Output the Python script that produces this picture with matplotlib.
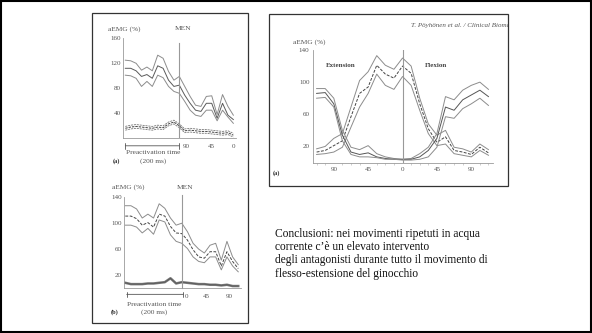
import matplotlib
matplotlib.use("Agg")
import matplotlib.pyplot as plt
from matplotlib.patches import Rectangle
import numpy as np

plt.rcParams['font.family'] = ['Liberation Serif', 'DejaVu Serif']

W, H = 592, 333

# ---------------- data ----------------
# Panel (a) top-left: samples 0..20, MEN at sample 10
tl_x = list(range(21))
tl_upper = [125, 124, 120, 109, 114, 108, 133, 128, 107, 93, 99, 83, 67, 53, 51, 67, 68, 38, 70, 51, 37]
tl_mean = [112, 112, 108, 99, 102, 96, 116, 112, 93, 83, 85, 69, 56, 45, 43, 56, 56, 32, 56, 37, 30]
tl_lower = [101, 100, 96, 83, 91, 83, 101, 97, 83, 75, 72, 59, 45, 37, 35, 45, 45, 28, 45, 34, 24]
tl_low_mean = [16, 18, 19, 18, 17, 16, 18, 17, 23, 26, 20, 12, 13, 12, 11, 11, 10, 9, 8, 9, 5]
tl_low_band = 3
tl_ticks = [11.2, 15.9, 20]
tl_ticklabels = ["90", "45", "0"]
tl_yticks = [40, 80, 120, 160]

# Panel (b) bottom-left
bl_x = list(range(21))
bl_upper = [127, 127, 122, 108, 114, 108, 130, 123, 108, 97, 100, 87, 69, 60, 54, 66, 69, 43, 72, 48, 36]
bl_mean = [111, 111, 107, 97, 101, 94, 114, 111, 95, 85, 84, 74, 59, 48, 46, 56, 56, 34, 56, 41, 30]
bl_lower = [97, 97, 94, 85, 92, 83, 105, 102, 82, 72, 69, 61, 48, 41, 39, 48, 48, 28, 48, 34, 25]
bl_low = [8, 6, 6, 6, 7, 7, 8, 9, 15, 7, 9, 8, 7, 6, 6, 5, 5, 4, 5, 3, 3]
bl_ticks = [10.8, 14.3, 18.4]
bl_ticklabels = ["0", "45", "90"]
bl_yticks = [20, 60, 100, 140]

# Right panel (a): samples -10..10, 0 = centre
r_x = list(range(-10, 11))
rA_upper = [17, 20, 30, 36, 69, 102, 113, 133, 121, 116, 130, 120, 80, 48, 34, 40, 19, 17, 13, 23, 16]
rA_mean = [13, 15, 21, 27, 57, 86, 94, 121, 110, 105, 120, 111, 73, 42, 25, 32, 15, 13, 10, 19, 12]
rA_lower = [10, 11, 13, 19, 44, 69, 86, 110, 96, 91, 107, 96, 65, 36, 21, 23, 11, 9, 7, 15, 9]
rB_upper = [92, 92, 80, 40, 19, 16, 21, 11, 7, 5, 4, 5, 11, 19, 36, 82, 78, 90, 96, 100, 91]
rB_mean = [86, 87, 73, 34, 13, 10, 12, 7, 5, 4, 4, 4, 7, 15, 30, 69, 65, 78, 84, 90, 82]
rB_lower = [80, 81, 69, 27, 10, 7, 7, 6, 4, 4, 3, 3, 4, 7, 19, 57, 55, 67, 73, 80, 71]
r_ticks = [-8, -4, 0, 4, 8]
r_ticklabels = ["90", "45", "0", "45", "90"]
r_yticks = [20, 60, 100, 140]

conclusion_lines = ["Conclusioni: nei movimenti ripetuti in acqua",
                    "corrente c\u2019\u00e8 un elevato intervento",
                    "degli antagonisti durante tutto il movimento di",
                    "flesso-estensione del ginocchio"]

# ---------------- helpers ----------------
def fx(x):
    return x / W

def fy(y):
    return 1 - y / H

def add_axes_px(fig, left, top, right, bottom):
    return fig.add_axes([fx(left), fy(bottom), (right - left) / W, (bottom - top) / H])

GRAY = '#8c8c8c'
DARK = '#5a5a5a'
TXT = '#555555'
FS = 5

fig = plt.figure(figsize=(W / 100, H / 100), dpi=100)
fig.patch.set_facecolor('white')

# slide border
fig.add_artist(Rectangle((0.001, 0.002), 0.997, 0.995, transform=fig.transFigure,
                         fill=False, edgecolor='black', linewidth=1.5))
# picture frames
fig.add_artist(Rectangle((fx(92), fy(323)), 156 / W, 310 / H, transform=fig.transFigure,
                         fill=False, edgecolor='#333333', linewidth=0.9))
fig.add_artist(Rectangle((fx(269), fy(186)), 239 / W, 172 / H, transform=fig.transFigure,
                         fill=False, edgecolor='#333333', linewidth=0.9))


def style_axes(ax, yticks, pad=1.5):
    for s in ['top', 'right']:
        ax.spines[s].set_visible(False)
    for s in ['left', 'bottom']:
        ax.spines[s].set_color('#9a9a9a')
        ax.spines[s].set_linewidth(0.6)
    ax.set_yticks(yticks)
    ax.set_yticklabels([str(v) for v in yticks])
    ax.tick_params(axis='y', length=0, pad=pad, labelsize=FS, labelcolor=TXT)
    ax.tick_params(axis='x', length=0, labelsize=FS, labelcolor=TXT)
    ax.set_facecolor('none')


# ---------- top-left panel ----------
ax1 = add_axes_px(fig, 123.3, 38.3, 235.5, 138.3)
ax1.set_xlim(-0.37, 20.4)
ax1.set_ylim(0, 160)
style_axes(ax1, tl_yticks)
ax1.plot(tl_x, tl_upper, color=GRAY, lw=0.7)
ax1.plot(tl_x, tl_mean, color=DARK, lw=0.7)
ax1.plot(tl_x, tl_lower, color=GRAY, lw=0.7)
lm = np.array(tl_low_mean)
ax1.plot(tl_x, lm + tl_low_band, color='#777777', lw=0.6, ls=(0, (2.5, 1)))
ax1.plot(tl_x, lm, color='#444444', lw=0.7, ls=(0, (2.5, 1)))
ax1.plot(tl_x, lm - tl_low_band, color='#777777', lw=0.6, ls=(0, (2.5, 1)))
ax1.axvline(10, ymin=0, ymax=0.95, color='#999999', lw=0.8)
ax1.set_xticks(tl_ticks)
ax1.set_xticklabels(tl_ticklabels)
ax1.tick_params(axis='x', pad=4)
ax1.annotate('', xy=(0, -0.075), xytext=(10, -0.075), xycoords=('data', 'axes fraction'),
             textcoords=('data', 'axes fraction'),
             arrowprops=dict(arrowstyle='|-|', color=TXT, lw=0.6, mutation_scale=2,
                             shrinkA=0, shrinkB=0), annotation_clip=False)
fig.text(fx(107.5), fy(29), 'aEMG (%)', fontsize=5.3, color=TXT, va='center', ha='left')
fig.text(fx(182.7), fy(29), 'MEN', fontsize=5.3, color=TXT, va='center', ha='center')
fig.text(fx(153.3), fy(152.7), 'Preactivation time', fontsize=5.3, color=TXT, va='center', ha='center')
fig.text(fx(153.3), fy(160.7), '(200 ms)', fontsize=5.3, color=TXT, va='center', ha='center')
fig.text(fx(116.5), fy(160.7), '(a)', fontsize=4.5, color='#333333', va='center', ha='center',
         fontweight='bold')

# ---------- bottom-left panel ----------
ax2 = add_axes_px(fig, 124, 197.3, 240.5, 288)
ax2.set_xlim(-0.23, 20.4)
ax2.set_ylim(0, 140)
style_axes(ax2, bl_yticks)
ax2.plot(bl_x, bl_upper, color=GRAY, lw=0.7)
ax2.plot(bl_x, bl_mean, color='#444444', lw=0.7, ls=(0, (3, 1.5)))
ax2.plot(bl_x, bl_lower, color=GRAY, lw=0.7)
ax2.plot(bl_x, bl_low, color='#777777', lw=1.8, solid_joinstyle='round')
ax2.plot(bl_x, bl_low, color='#555555', lw=0.5)
ax2.axvline(10, ymin=0, ymax=1.02, color='#999999', lw=0.8, clip_on=False)
ax2.set_xticks(bl_ticks)
ax2.set_xticklabels(bl_ticklabels)
ax2.tick_params(axis='x', pad=4)
ax2.annotate('', xy=(0.25, -0.07), xytext=(10.3, -0.07), xycoords=('data', 'axes fraction'),
             textcoords=('data', 'axes fraction'),
             arrowprops=dict(arrowstyle='|-|', color=TXT, lw=0.6, mutation_scale=2,
                             shrinkA=0, shrinkB=0), annotation_clip=False)
fig.text(fx(111.5), fy(187.3), 'aEMG (%)', fontsize=5.3, color=TXT, va='center', ha='left')
fig.text(fx(185), fy(187.3), 'MEN', fontsize=5.3, color=TXT, va='center', ha='center')
fig.text(fx(154), fy(304), 'Preactivation time', fontsize=5.3, color=TXT, va='center', ha='center')
fig.text(fx(154), fy(312), '(200 ms)', fontsize=5.3, color=TXT, va='center', ha='center')
fig.text(fx(115), fy(312), '(b)', fontsize=4.5, color='#333333', va='center', ha='center',
         fontweight='bold')

# ---------- right panel ----------
ax3 = add_axes_px(fig, 313, 50, 492.5, 162.5)
ax3.set_xlim(-10.42, 10.47)
ax3.set_ylim(0, 140)
style_axes(ax3, r_yticks, pad=2.5)
ax3.plot(r_x, rA_upper, color=GRAY, lw=0.7)
ax3.plot(r_x, rA_mean, color='#444444', lw=0.7, ls=(0, (3, 1.5)))
ax3.plot(r_x, rA_lower, color=GRAY, lw=0.7)
ax3.plot(r_x, rB_upper, color=GRAY, lw=0.7)
ax3.plot(r_x, rB_mean, color='#555555', lw=0.7)
ax3.plot(r_x, rB_lower, color=GRAY, lw=0.7)
ax3.axvline(0, ymin=0, ymax=1.0, color='#999999', lw=0.8)
ax3.set_xticks(r_ticks)
ax3.set_xticklabels(r_ticklabels)
ax3.set_xticks(r_x, minor=True)
ax3.tick_params(axis='x', which='minor', length=1.2, width=0.4, color='#aaaaaa', direction='out')
ax3.tick_params(axis='x', which='major', pad=3)
fig.text(fx(293), fy(42.3), 'aEMG (%)', fontsize=5.3, color=TXT, va='center', ha='left')
fig.text(fx(340.8), fy(65.7), 'Extension', fontsize=5, color='#444444', va='center', ha='center',
         fontweight='bold')
fig.text(fx(436), fy(65.7), 'Flexion', fontsize=5, color='#444444', va='center', ha='center',
         fontweight='bold')
fig.text(fx(276.5), fy(173.3), '(a)', fontsize=4.5, color='#333333', va='center', ha='center',
         fontweight='bold')

# frame axes for the clipped journal header
axf = fig.add_axes([fx(269), fy(186), 239 / W, 172 / H])
axf.set_axis_off()
axf.set_xlim(269, 508)
axf.set_ylim(186, 14)
axf.text(411.5, 25.7, 'T. P\u00f6yh\u00f6nen et al. / Clinical Biomechanics', fontsize=5,
         fontstyle='italic', color='#555555', va='center', ha='left', clip_on=True)

# conclusion text, one line each
for line, yy in zip(conclusion_lines, [234, 247.5, 260.5, 273.5]):
    fig.text(fx(275), fy(yy), line, fontsize=8.3, color='#111111', va='center', ha='left')

fig.savefig('out.png', dpi=100, facecolor='white')
